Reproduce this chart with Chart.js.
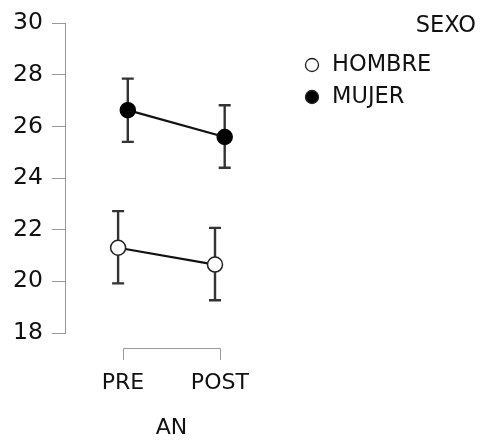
<!DOCTYPE html>
<html lang="es">
<head>
    <meta charset="UTF-8">
    <title>AN x SEXO</title>
    <script src="https://cdn.jsdelivr.net/npm/chart.js"></script>
    <style>
        body { margin: 0; background: #fff; }
        .wrap { width: 482px; height: 441px; }
    </style>
</head>
<body>
    <div class="wrap">
        <canvas id="grafico"></canvas>
    </div>

<script>
    // datos
    const categorias = ['PRE', 'POST'];
    const yTicks = [18, 20, 22, 24, 26, 28, 30];

    const hombreMedia = [21.30, 20.65];
    const hombreSup = [22.72, 22.07];
    const hombreInf = [19.92, 19.27];

    const mujerMedia = [26.63, 25.59];
    const mujerSup = [27.85, 26.82];
    const mujerInf = [25.40, 24.40];

    const fuente = 'DejaVu Sans';
    const desplazamiento = 0.05; // separacion entre grupos

    function puntos(medias, sup, inf, d) {
        return medias.map((m, i) => ({ x: i + 1 + d, y: m, sup: sup[i], inf: inf[i] }));
    }

    // barras de error, antes de dibujar lineas y puntos
    const barrasError = {
        id: 'barrasError',
        beforeDatasetsDraw(chart) {
            const c = chart.ctx;
            const x = chart.scales.x, y = chart.scales.y;
            c.save();
            c.strokeStyle = '#333';
            c.lineWidth = 2.4;
            chart.data.datasets.forEach(ds => {
                ds.data.forEach(p => {
                    const px = x.getPixelForValue(p.x);
                    const top = y.getPixelForValue(p.sup);
                    const bot = y.getPixelForValue(p.inf);
                    c.beginPath();
                    c.moveTo(px, top); c.lineTo(px, bot);
                    c.moveTo(px - 6, top); c.lineTo(px + 6, top);
                    c.moveTo(px - 6, bot); c.lineTo(px + 6, bot);
                    c.stroke();
                });
            });
            c.restore();
        }
    };

    // corchete del eje x y leyenda
    const extras = {
        id: 'extras',
        afterDraw(chart) {
            const c = chart.ctx;
            const x = chart.scales.x;
            const x1 = Math.round(x.getPixelForValue(1)) + 0.5;
            const x2 = Math.round(x.getPixelForValue(categorias.length)) + 0.5;
            c.save();
            c.strokeStyle = '#999';
            c.lineWidth = 1;
            c.beginPath();
            c.moveTo(x1, 360); c.lineTo(x1, 348.5); c.lineTo(x2, 348.5); c.lineTo(x2, 360);
            c.stroke();

            // leyenda
            c.fillStyle = '#111';
            c.font = '22.5px ' + fuente;
            c.textBaseline = 'middle';
            c.textAlign = 'right';
            c.fillText('SEXO', 476, 26);
            c.textAlign = 'left';
            const filas = [65, 97];
            chart.data.datasets.forEach((ds, i) => {
                c.beginPath();
                c.arc(312, filas[i], 6.5, 0, Math.PI * 2);
                c.fillStyle = ds.pointBackgroundColor;
                c.fill();
                c.strokeStyle = '#222';
                c.lineWidth = 1.3;
                c.stroke();
                c.fillStyle = '#111';
                c.fillText(ds.label, 332, filas[i]);
            });
            c.restore();
        }
    };

    const ctx = document.getElementById('grafico').getContext('2d');

    new Chart(ctx, {
        type: 'line',
        data: {
            datasets: [
                {
                    label: 'HOMBRE',
                    data: puntos(hombreMedia, hombreSup, hombreInf, -desplazamiento),
                    borderColor: '#111',
                    borderWidth: 2.2,
                    pointRadius: 7.5,
                    pointBorderWidth: 1.5,
                    pointBackgroundColor: '#fff',
                    pointBorderColor: '#222',
                    tension: 0
                },
                {
                    label: 'MUJER',
                    data: puntos(mujerMedia, mujerSup, mujerInf, desplazamiento),
                    borderColor: '#111',
                    borderWidth: 2.2,
                    pointRadius: 7.5,
                    pointBorderWidth: 1.5,
                    pointBackgroundColor: '#000',
                    pointBorderColor: '#000',
                    tension: 0
                }
            ]
        },
        options: {
            responsive: true,
            maintainAspectRatio: false,
            animation: false,
            layout: { padding: { top: 20, right: 204, bottom: 0, left: 0 } },
            plugins: {
                legend: { display: false },
                tooltip: { enabled: false }
            },
            scales: {
                x: {
                    type: 'linear',
                    min: 0.402,
                    max: 2.6,
                    grid: { display: false },
                    border: { display: false },
                    afterBuildTicks: s => { s.ticks = categorias.map((_, i) => ({ value: i + 1 })); },
                    afterFit: s => { s.height = 108; },
                    ticks: {
                        padding: 29,
                        color: '#111',
                        font: { family: fuente, size: 22 },
                        callback: v => categorias[v - 1],
                        maxRotation: 0
                    },
                    title: {
                        display: true,
                        text: 'AN',
                        color: '#111',
                        font: { family: fuente, size: 22 },
                        padding: { top: 0, bottom: 0 }
                    }
                },
                y: {
                    min: 18,
                    max: 30,
                    afterBuildTicks: s => { s.ticks = yTicks.map(v => ({ value: v })); },
                    afterFit: s => { s.width = 65; },
                    grid: {
                        drawOnChartArea: false,
                        tickLength: 13,
                        color: '#999',
                        tickWidth: 1
                    },
                    border: { display: true, color: '#999', width: 1 },
                    ticks: {
                        padding: 9,
                        color: '#111',
                        font: { family: fuente, size: 23.5 }
                    }
                }
            }
        },
        plugins: [barrasError, extras]
    });
</script>
</body>
</html>
